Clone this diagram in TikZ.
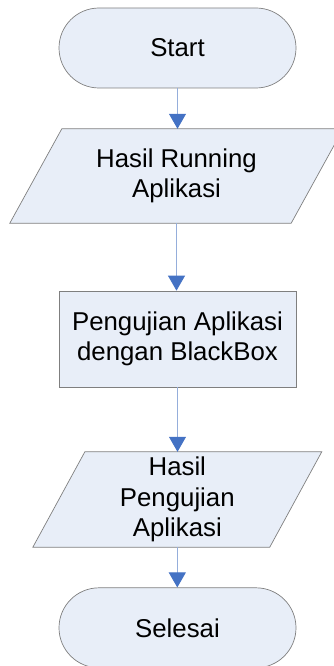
\documentclass[tikz,border=0pt]{standalone}
\usepackage{fontspec}
\setmainfont{Liberation Sans}
\usetikzlibrary{arrows.meta,backgrounds}
\definecolor{shapefill}{HTML}{E8EEF8}
\definecolor{shapeline}{HTML}{7F7F7F}
\definecolor{linkline}{HTML}{95AEDB}
\definecolor{linktip}{HTML}{4472C4}
\tikzset{
  x=1pt,y=-1pt,
  txt/.style={font=\fontsize{25.8}{30.5}\selectfont, align=center, inner sep=0pt},
  term/.style={txt, draw=shapeline, fill=shapefill, line width=0.7pt, rounded corners=40pt, minimum width=237pt, minimum height=80pt},
  procbox/.style={txt, draw=shapeline, fill=shapefill, line width=0.7pt, minimum width=237pt, minimum height=96pt},
  iobox/.style={txt, minimum height=95pt},
  ioshape/.style={draw=shapeline, fill=shapefill, line width=0.7pt, line join=miter},
  link/.style={draw=linkline, line width=0.8pt, -{Triangle[width=17pt,length=15pt,color=linktip]}}
}
\begin{document}
\begin{tikzpicture}
\useasboundingbox (0,0) rectangle (334,666);
\node[term] (start) at (177.5,48) {Start};
\node[iobox, minimum width=281pt, minimum height=94pt] (p1) at (176.5,176) {Hasil Running\\Aplikasi};
\node[procbox] (proc) at (177.5,339) {Pengujian Aplikasi\\dengan BlackBox};
\node[iobox, minimum width=236.5pt] (p2) at (177.3,499.5) {Hasil\\Pengujian\\Aplikasi};
\node[term] (end) at (177.5,627.8) {Selesai};
\begin{scope}[on background layer]
\draw[ioshape] ([xshift=26pt]p1.north west) -- ([xshift=26pt]p1.north east) -- ([xshift=-26pt]p1.south east) -- ([xshift=-26pt]p1.south west) -- cycle;
\draw[ioshape] ([xshift=26pt]p2.north west) -- ([xshift=26pt]p2.north east) -- ([xshift=-26pt]p2.south east) -- ([xshift=-26pt]p2.south west) -- cycle;
\end{scope}
\draw[link] (start.south) -- (start.south |- p1.north);
\draw[link] (p1.south) -- (p1.south |- proc.north);
\draw[link] (proc.south) -- (proc.south |- p2.north);
\draw[link] (p2.south) -- (p2.south |- end.north);
\end{tikzpicture}
\end{document}
